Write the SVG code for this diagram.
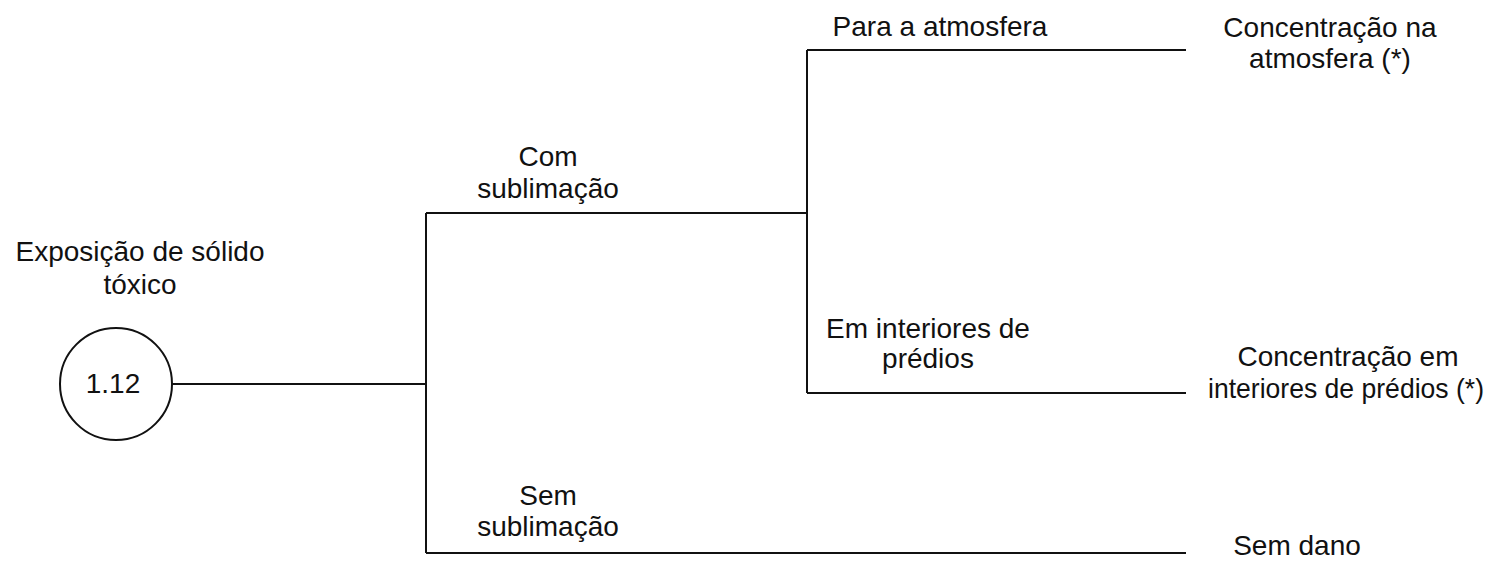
<svg xmlns="http://www.w3.org/2000/svg" width="1497" height="565" viewBox="0 0 1497 565">
<style>
text{font-family:"Liberation Sans",Arial,sans-serif;font-size:28px;fill:#111;text-anchor:middle}
.ln{stroke:#111;stroke-width:2;fill:none}
</style>
<rect width="1497" height="565" fill="#fff"/>
<g id="connectors">
<path class="ln" d="M172,384 H426"/>
<path class="ln" d="M426,213 V553"/>
<path class="ln" d="M426,213 H807"/>
<path class="ln" d="M426,553 H1186"/>
<path class="ln" d="M807,50 V393"/>
<path class="ln" d="M807,50 H1186"/>
<path class="ln" d="M807,393 H1186"/>
</g>
<g id="root">
<text x="140" y="261">Exposição de sólido</text>
<text x="140" y="294">tóxico</text>
<circle cx="116" cy="384" r="56" class="ln"/>
<text x="113" y="393">1.12</text>
</g>
<g id="com-sublimacao">
<text x="548" y="166">Com</text>
<text x="548" y="198">sublimação</text>
</g>
<g id="sem-sublimacao">
<text x="548" y="505">Sem</text>
<text x="548" y="536">sublimação</text>
</g>
<g id="para-atmosfera">
<text x="940" y="36">Para a atmosfera</text>
</g>
<g id="em-interiores">
<text x="928" y="338">Em interiores de</text>
<text x="928" y="368">prédios</text>
</g>
<g id="conc-atmosfera">
<text x="1330" y="37">Concentração na</text>
<text x="1330" y="68">atmosfera (*)</text>
</g>
<g id="conc-interiores">
<text x="1348" y="366">Concentração em</text>
<text x="1346" y="398" textLength="276" lengthAdjust="spacingAndGlyphs">interiores de prédios (*)</text>
</g>
<g id="sem-dano">
<text x="1297" y="555">Sem dano</text>
</g>
</svg>
